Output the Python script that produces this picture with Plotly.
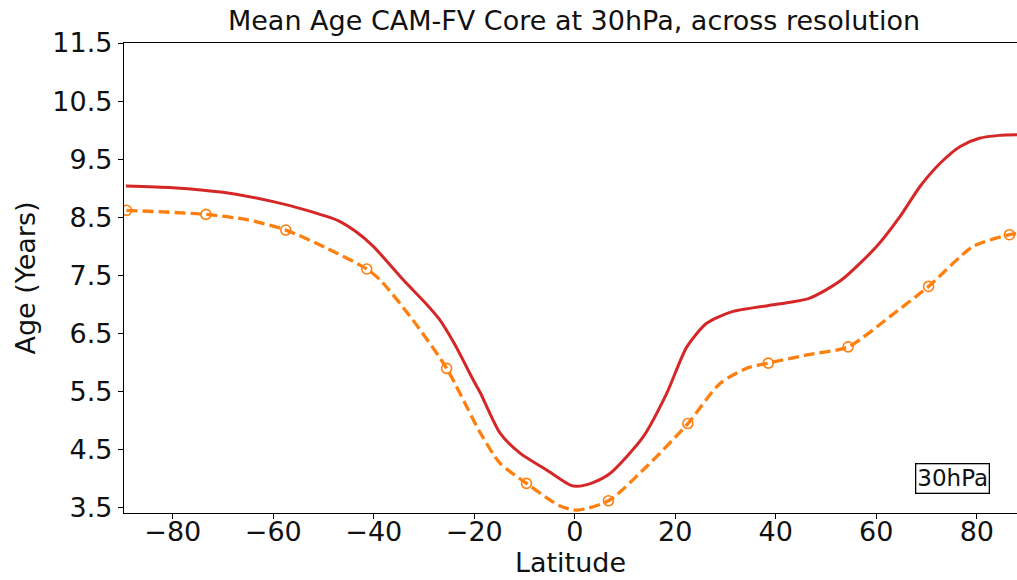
import plotly.graph_objects as go

# Red series (solid)
red_lat = [-89.3, -80, -70, -60, -53.3, -47.0, -43.5, -40.1, -34.1, -30.0, -27.0, -24.0, -20.2,
           -18.8, -14.9, -10.9, -5.6, -0.9, 0.4, 3.5, 7.0, 13.6, 18.3, 22.3, 26.3, 31.5,
           40.9, 46.5, 50.0, 53.5, 60.1, 64.7, 68.7, 72.7, 76.7, 80.5, 84.5, 88.0]
red_age = [9.04, 9.01, 8.93, 8.77, 8.62, 8.44, 8.25, 8.00, 7.42, 7.05, 6.75, 6.33, 5.70,
           5.48, 4.79, 4.44, 4.15, 3.89, 3.87, 3.93, 4.09, 4.72, 5.47, 6.27, 6.68, 6.88,
           7.01, 7.10, 7.25, 7.45, 8.00, 8.51, 9.03, 9.43, 9.72, 9.86, 9.91, 9.92]

# Orange series (dashed)
org_lat = [-89.2, -73.4, -65.3, -57.5, -49.4, -41.4, -38.7, -32.2, -25.5, -18.8, -14.9, -9.6,
           -2.9, 0.5, 6.7, 14.3, 22.5, 28.9, 34.2, 38.5, 46.2, 54.4, 62.7, 70.4, 79.3, 86.5, 88.0]
org_age = [8.62, 8.55, 8.46, 8.28, 7.97, 7.61, 7.42, 6.73, 5.90, 4.79, 4.27, 3.92,
           3.53, 3.46, 3.62, 4.21, 4.95, 5.64, 5.90, 5.99, 6.13, 6.27, 6.79, 7.31, 8.00, 8.20, 8.22]

# Marker locations on the orange series
mark_lat = [-89.2, -73.4, -57.5, -41.4, -25.5, -9.6, 6.7, 22.5, 38.5, 54.4, 70.4, 86.5]
mark_age = [8.62, 8.55, 8.28, 7.61, 5.90, 3.92, 3.62, 4.95, 5.99, 6.27, 7.31, 8.20]

x_ticks = [-80, -60, -40, -20, 0, 20, 40, 60, 80]
x_ticktext = ["\u221280", "\u221260", "\u221240", "\u221220", "0", "20", "40", "60", "80"]
y_ticks = [3.5, 4.5, 5.5, 6.5, 7.5, 8.5, 9.5, 10.5, 11.5]

RED = "#d62728"
ORANGE = "#ff7f0e"
FONT = "DejaVu Sans"
TXT = "#111111"

fig = go.Figure()
fig.add_trace(go.Scatter(x=red_lat, y=red_age, mode="lines",
                         line=dict(color=RED, width=3, shape="spline", smoothing=0.7),
                         showlegend=False, hoverinfo="skip"))
fig.add_trace(go.Scatter(x=org_lat, y=org_age, mode="lines",
                         line=dict(color=ORANGE, width=3.3, dash="11px,5px", shape="spline", smoothing=0.7),
                         showlegend=False, hoverinfo="skip"))
fig.add_trace(go.Scatter(x=mark_lat, y=mark_age, mode="markers",
                         marker=dict(symbol="circle-open", size=10, color=ORANGE,
                                     line=dict(width=1.6, color=ORANGE)),
                         showlegend=False, hoverinfo="skip"))

pa_left, pa_right = 124, 1017
pa_top, pa_bottom = 43, 513
pa_w = pa_right - pa_left
pa_h = pa_bottom - pa_top

fig.update_layout(
    width=1017, height=580,
    margin=dict(l=pa_left, r=1017 - pa_right, t=pa_top, b=580 - pa_bottom),
    paper_bgcolor="white", plot_bgcolor="white",
    font=dict(family=FONT, color=TXT, size=27),
    title=dict(text="Mean Age CAM-FV Core at 30hPa, across resolution",
               x=574 / 1017, xanchor="center", y=1 - 21 / 580, yanchor="middle",
               font=dict(family=FONT, size=27, color=TXT)),
    xaxis=dict(range=[-89.7, 88.0], tickvals=x_ticks, ticktext=x_ticktext,
               ticks="outside", ticklen=5, tickwidth=1.2, tickcolor="black",
               ticklabelstandoff=-11,
               showline=True, linecolor="black", linewidth=1.3, mirror=True,
               showgrid=False, zeroline=False, automargin=False,
               tickfont=dict(family=FONT, size=27, color=TXT),
               title=dict(text="Latitude", standoff=6,
                          font=dict(family=FONT, size=27, color=TXT))),
    yaxis=dict(range=[3.41, 11.5], tickvals=y_ticks, ticktext=[f"{v:.1f}" for v in y_ticks],
               ticks="outside", ticklen=5, tickwidth=1.2, tickcolor="black",
               showline=True, linecolor="black", linewidth=1.3,
               showgrid=False, zeroline=False, automargin=False,
               tickfont=dict(family=FONT, size=27, color=TXT),
               title=dict(text="Age (Years)", standoff=8,
                          font=dict(family=FONT, size=27, color=TXT))),
    annotations=[dict(text="30hPa", x=(952 - pa_left) / pa_w, y=1 - (478 - pa_top) / pa_h,
                      xref="paper", yref="paper",
                      xanchor="center", yanchor="middle", showarrow=False,
                      font=dict(family=FONT, size=23, color=TXT),
                      bordercolor="black", borderwidth=1.3, borderpad=1, bgcolor="white")]
)

fig.write_html("out.html")
